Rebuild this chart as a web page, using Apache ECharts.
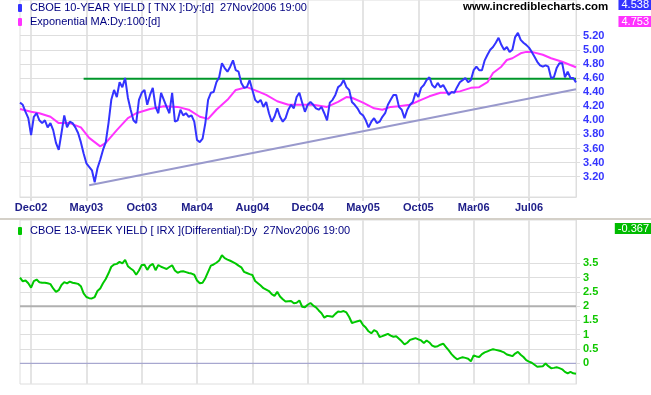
<!DOCTYPE html>
<html><head><meta charset="utf-8">
<script src="https://cdn.jsdelivr.net/npm/echarts@6/dist/echarts.min.js"></script>
<style>html,body{margin:0;padding:0;background:#fff}#c{width:651px;height:395px}</style>
</head><body><div id="c"></div><script>
// ---- data (weekly samples, Dec 2002 .. 27 Nov 2006) ----
const tnx = [
4.25,4.22,4.12,4.03,3.79,4.05,4.10,4.00,3.96,4.00,
3.90,3.96,3.86,3.68,3.58,3.82,4.07,3.90,3.98,3.96,
3.90,3.82,3.69,3.53,3.39,3.34,3.29,3.12,3.32,3.44,
3.58,3.69,3.96,4.29,4.43,4.33,4.54,4.47,4.60,4.32,
4.15,4.00,3.96,4.29,4.39,4.43,4.22,4.36,4.46,4.19,
4.10,4.39,4.29,4.19,4.10,4.39,3.98,4.00,4.15,4.07,
4.10,4.05,4.07,3.98,3.72,3.69,3.74,3.96,4.29,4.39,
4.40,4.54,4.61,4.81,4.74,4.69,4.76,4.85,4.71,4.69,
4.53,4.46,4.47,4.57,4.43,4.29,4.25,4.29,4.19,4.26,
4.10,3.98,4.05,4.17,4.05,3.98,4.03,4.15,4.22,4.17,
4.33,4.39,4.25,4.12,4.22,4.26,4.22,4.17,4.15,4.19,
4.10,4.00,4.25,4.29,4.36,4.47,4.50,4.57,4.47,4.43,
4.26,4.22,4.17,4.10,4.07,4.00,3.90,3.98,4.03,3.96,
3.98,4.05,4.10,4.22,4.29,4.36,4.36,4.19,4.15,4.03,
4.15,4.22,4.26,4.39,4.33,4.46,4.50,4.57,4.61,4.50,
4.46,4.53,4.47,4.50,4.43,4.36,4.40,4.39,4.47,4.54,
4.57,4.60,4.54,4.57,4.71,4.76,4.71,4.71,4.85,4.93,
5.00,5.04,5.10,5.17,5.07,5.00,5.04,4.97,5.00,5.18,
5.24,5.14,5.10,5.07,5.03,4.97,4.90,4.83,4.78,4.76,
4.78,4.76,4.60,4.61,4.74,4.81,4.81,4.61,4.69,4.60,
4.60,4.538];

const maIdx = [0,4,7,11,14,18,22,25,29,31,35,39,42,47,52,57,61,65,68,71,75,78,82,86,89,93,97,100,106,111,115,118,120,124,128,131,134,137,141,145,148,152,155,159,163,166,169,171,174,176,178,181,183,185,189,192,196,201];
const maVal = [4.16,4.12,4.10,4.05,3.96,3.96,3.90,3.75,3.63,3.68,3.86,4.03,4.10,4.16,4.20,4.19,4.15,4.05,4.02,4.15,4.29,4.43,4.47,4.41,4.36,4.27,4.22,4.22,4.22,4.19,4.26,4.33,4.32,4.25,4.17,4.15,4.19,4.20,4.22,4.29,4.34,4.39,4.39,4.41,4.46,4.47,4.54,4.67,4.76,4.855,4.88,4.95,4.97,4.97,4.93,4.88,4.83,4.753];

const irx = [
3.00,2.87,2.90,2.80,2.65,2.88,2.93,2.84,2.82,2.82,
2.80,2.77,2.62,2.50,2.56,2.74,2.84,2.80,2.86,2.82,
2.80,2.78,2.70,2.45,2.32,2.28,2.27,2.32,2.53,2.62,
2.80,2.95,3.15,3.38,3.46,3.48,3.55,3.50,3.62,3.40,
3.32,3.25,3.10,3.25,3.44,3.45,3.27,3.42,3.48,3.26,
3.44,3.38,3.34,3.30,3.37,3.43,3.25,3.17,3.21,3.22,
3.19,3.16,3.14,3.10,2.90,2.80,2.82,2.98,3.20,3.42,
3.46,3.52,3.60,3.78,3.68,3.63,3.59,3.54,3.49,3.42,
3.36,3.20,3.16,3.12,3.09,2.88,2.80,2.72,2.63,2.58,
2.53,2.42,2.36,2.50,2.34,2.24,2.16,2.17,2.18,2.10,
2.12,2.20,1.98,1.96,2.05,2.11,2.02,1.96,1.85,1.75,
1.60,1.66,1.65,1.63,1.73,1.81,1.80,1.83,1.78,1.62,
1.41,1.44,1.47,1.50,1.34,1.25,1.12,1.05,1.16,1.11,
0.92,0.95,0.99,1.03,0.97,0.93,0.95,0.86,0.77,0.66,
0.72,0.82,0.85,0.88,0.84,0.80,0.71,0.80,0.73,0.62,
0.58,0.60,0.65,0.69,0.57,0.45,0.32,0.22,0.14,0.18,
0.21,0.19,0.16,0.07,0.28,0.24,0.22,0.32,0.38,0.42,
0.46,0.49,0.47,0.45,0.42,0.38,0.31,0.28,0.25,0.34,
0.40,0.30,0.22,0.11,0.06,0.02,-0.05,-0.12,-0.11,-0.10,
-0.01,-0.10,-0.17,-0.16,-0.14,-0.17,-0.21,-0.30,-0.35,-0.30,
-0.35,-0.367];

const xTickLabels = ['Dec02','May03','Oct03','Mar04','Aug04','Dec04','May05','Oct05','Mar06','Jul06'];
const firstLabelIdx = 4, labelStep = 20;
const resistIdx = [23, 201], resistVal = [4.59, 4.59];
const trendIdx = [25, 201], trendVal = [3.08, 4.44];
const topTicks = [3.2,3.4,3.6,3.8,4.0,4.2,4.4,4.6,4.8,5.0,5.2];
const botTicks = [0,0.5,1,1.5,2,2.5,3,3.5];
const level2 = 2, level0 = 0;

const TNX_NAME = 'CBOE 10-YEAR YIELD [ TNX ]:Dy:[d]  27Nov2006 19:00';
const MA_NAME = 'Exponential MA:Dy:100:[d]';
const IRX_NAME = 'CBOE 13-WEEK YIELD [ IRX ](Differential):Dy  27Nov2006 19:00';

// ---- chart ----
const FONT = "'Liberation Sans', Arial, sans-serif";
const cats = tnx.map((v, i) => String(i));
const lastIdx = cats.length - 1;
const isLab = i => i >= firstLabelIdx && (i - firstLabelIdx) % labelStep === 0 && (i - firstLabelIdx) / labelStep < xTickLabels.length;
const GRID = '#dedede';
const pairs = (ix, vals) => ix.map((x, k) => [x, vals[k]]);

function xAxisFor(g, labels) {
  return {
    type: 'category', gridIndex: g, data: cats, boundaryGap: false,
    axisLine: { show: true, lineStyle: { color: GRID } },
    axisTick: { show: true, length: 4, interval: (i) => isLab(i), lineStyle: { color: GRID, width: 2 } },
    axisLabel: {
      show: labels, interval: (i) => isLab(i), margin: 5,
      formatter: (v, i) => xTickLabels[(Number(v) - firstLabelIdx) / labelStep] || '',
      color: '#20208a', fontWeight: 'bold', fontSize: 11, fontFamily: FONT
    },
    splitLine: { show: true, interval: (i) => isLab(i), lineStyle: { color: '#e4e4e4', width: 2 } }
  };
}
function yAxisFor(g, min, max, ticks, color, fmt) {
  return {
    type: 'value', gridIndex: g, position: 'right', min: min, max: max,
    axisLine: { show: true, lineStyle: { color: GRID } },
    axisTick: { show: true, length: 4, customValues: ticks, lineStyle: { color: GRID } },
    axisLabel: { customValues: ticks, formatter: fmt, color: color, fontWeight: 'bold', fontSize: 11, fontFamily: FONT, margin: 7 },
    splitLine: { show: false }
  };
}
const lineS = (name, x, y, data, color, w, z) => ({
  name: name, type: 'line', xAxisIndex: x, yAxisIndex: y, data: data, color: color,
  showSymbol: false, symbol: 'none', lineStyle: { color: color, width: w }, z: z,
  emphasis: { disabled: true }, silent: true
});
const gridLines = (x, y, ticks) => ({
  name: 'grid' + y, type: 'line', xAxisIndex: x, yAxisIndex: y, data: [], z: 0, silent: true,
  markLine: {
    z: 0, silent: true, symbol: ['none', 'none'], label: { show: false }, animation: false,
    lineStyle: { color: GRID, width: 1, type: 'solid' }, emphasis: { disabled: true },
    data: ticks.map(v => ({ yAxis: v }))
  }
});
const legendText = { color: '#000080', fontSize: 11, fontFamily: FONT, lineHeight: 14, padding: [0, 0, 0, 3] };

const chart = echarts.init(document.getElementById('c'), null, { renderer: 'canvas' });
chart.setOption({
  animation: false,
  textStyle: { fontFamily: FONT },
  grid: [
    { left: 20, right: 75, top: 0, height: 197, show: true, borderColor: GRID, borderWidth: 1 },
    { left: 20, right: 75, top: 220, height: 164, show: true, borderColor: GRID, borderWidth: 1 }
  ],
  xAxis: [xAxisFor(0, true), xAxisFor(1, false)],
  yAxis: [
    yAxisFor(0, 2.912, 5.706, topTicks, '#3535ff', v => v.toFixed(2)),
    yAxisFor(1, -0.7245, 5.016, botTicks, '#10c800', v => String(v))
  ],
  legend: [
    { left: 18, top: 1, padding: 0, orient: 'vertical', itemWidth: 4, itemHeight: 8, itemGap: 0, icon: 'roundRect',
      selectedMode: false, data: [TNX_NAME, MA_NAME], textStyle: legendText },
    { left: 18, top: 224, padding: 0, orient: 'vertical', itemWidth: 4, itemHeight: 8, itemGap: 0, icon: 'roundRect',
      selectedMode: false, data: [IRX_NAME], textStyle: legendText }
  ],
  graphic: [
    { type: 'rect', left: 0, top: 218, z: 100, shape: { width: 651, height: 2 }, style: { fill: '#d4d0c8' } },
    { type: 'text', left: 463, top: 1, z: 100, style: { text: 'www.incrediblecharts.com', fill: '#000', font: 'bold 11.5px ' + FONT } },
    { type: 'text', right: 0, top: -1, z: 100, style: { text: tnx[lastIdx].toFixed(3), fill: '#fff', backgroundColor: '#3333ff', padding: [0, 2, 0, 3], lineHeight: 11, font: '11px ' + FONT } },
    { type: 'text', right: 0, top: 16, z: 100, style: { text: maVal[maVal.length - 1].toFixed(3), fill: '#fff', backgroundColor: '#ff33ff', padding: [0, 2, 0, 3], lineHeight: 11, font: '11px ' + FONT } },
    { type: 'text', right: 0, top: 223, z: 100, style: { text: irx[lastIdx].toFixed(3), fill: '#fff', backgroundColor: '#00bb00', padding: [0, 2, 0, 3], lineHeight: 11, font: '11px ' + FONT } }
  ],
  series: [
    gridLines(0, 0, topTicks),
    gridLines(1, 1, botTicks.filter(v => v !== level2 && v !== level0)),
    lineS('trend', 0, 0, pairs(trendIdx, trendVal), '#9999cc', 2, 1),
    lineS('resist', 0, 0, pairs(resistIdx, resistVal), '#00962a', 2, 1),
    lineS(MA_NAME, 0, 0, pairs(maIdx, maVal), '#ff33ff', 2, 2),
    lineS(TNX_NAME, 0, 0, tnx, '#3333ff', 2, 3),
    lineS('lvl2', 1, 1, [[0, level2], [lastIdx, level2]], '#b0b0b0', 2, 1),
    lineS('lvl0', 1, 1, [[0, level0], [lastIdx, level0]], '#9999cc', 1, 1),
    lineS(IRX_NAME, 1, 1, irx, '#00c800', 2, 3)
  ]
});
</script></body></html>
